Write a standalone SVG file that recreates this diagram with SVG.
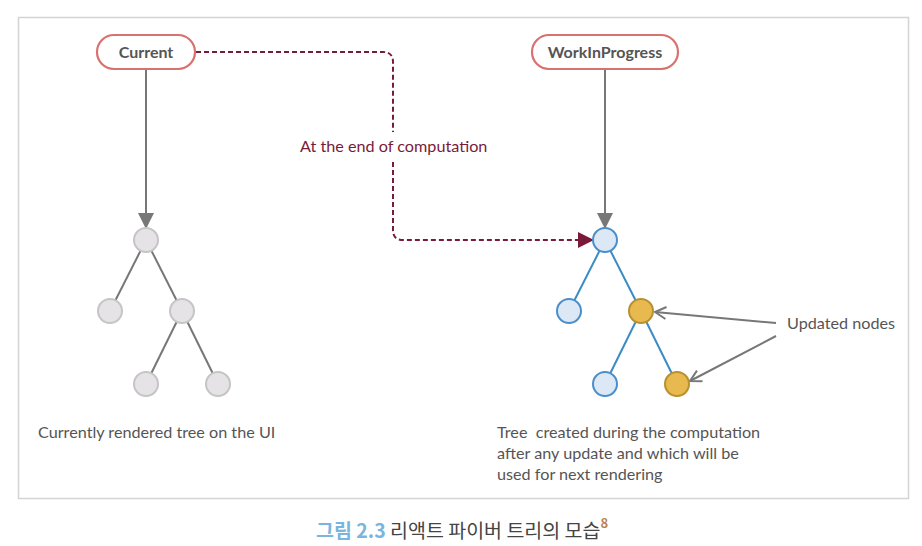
<svg xmlns="http://www.w3.org/2000/svg" width="922" height="546" viewBox="0 0 922 546">
<defs>
<style>
.t{font-family:Lato,"Open Sans","Noto Sans",sans-serif;font-size:16.2px;fill:#555}
.pill{fill:#fff;stroke:#d9716f;stroke-width:2.2}
.gn{fill:#e6e3e7;stroke:#c6c4c6;stroke-width:2}
.bn{fill:#dce8f5;stroke:#4a8fcc;stroke-width:2}
.yn{fill:#e8b94f;stroke:#b8902e;stroke-width:2}
.ge{stroke:#777;stroke-width:2;fill:none}
.be{stroke:#3a8cc4;stroke-width:2;fill:none}
</style>
<marker id="ahg" viewBox="0 0 16 16" refX="14" refY="8" markerWidth="16" markerHeight="16" markerUnits="userSpaceOnUse" orient="auto"><path d="M0,0 L16,8 L0,16 Z" fill="#777"/></marker>
<marker id="ahr" viewBox="0 0 16 16" refX="14" refY="8" markerWidth="16" markerHeight="16" markerUnits="userSpaceOnUse" orient="auto"><path d="M0,0 L16,8 L0,16 Z" fill="#7a1a3a"/></marker>
<marker id="aho" viewBox="0 0 14 14" refX="13" refY="7" markerWidth="14" markerHeight="14" markerUnits="userSpaceOnUse" orient="auto"><path d="M2,1 L13,7 L2,13" fill="none" stroke="#777" stroke-width="2"/></marker>
</defs>
<rect x="18.5" y="17.5" width="890" height="481" fill="#fff" stroke="#d4d4d4" stroke-width="1.5"/>
<g id="connectors">
<line class="ge" x1="146" y1="70" x2="146" y2="227" marker-end="url(#ahg)"/>
<line class="ge" x1="605" y1="70" x2="605" y2="227" marker-end="url(#ahg)"/>
<path d="M196,52 H383 Q393,52 393,62 V132 M393,162 V230 Q393,240 403,240 H592" fill="none" stroke="#7a1a3a" stroke-width="2" stroke-dasharray="5,3" marker-end="url(#ahr)"/>
<line class="ge" x1="776" y1="323" x2="655" y2="312" marker-end="url(#aho)"/>
<line class="ge" x1="776" y1="336" x2="690" y2="381" marker-end="url(#aho)"/>
<line class="ge" x1="146" y1="240" x2="110" y2="311"/>
<line class="ge" x1="146" y1="240" x2="182" y2="311"/>
<line class="ge" x1="182" y1="311" x2="146" y2="384"/>
<line class="ge" x1="182" y1="311" x2="218" y2="384"/>
<line class="be" x1="605" y1="240" x2="569" y2="311"/>
<line class="be" x1="605" y1="240" x2="641" y2="311"/>
<line class="be" x1="641" y1="311" x2="605" y2="384"/>
<line class="be" x1="641" y1="311" x2="677" y2="384"/>
<text x="300" y="152" style="font-family:Lato,'Open Sans',sans-serif;font-size:16.2px;fill:#7a1a3a">At the end of computation</text>
</g>
<g id="current"><rect class="pill" x="97" y="35" width="98" height="34" rx="17"/><text class="t" x="146" y="58" text-anchor="middle" style="font-weight:bold;font-size:16px">Current</text></g>
<g id="wip"><rect class="pill" x="532" y="35" width="146" height="34" rx="17"/><text class="t" x="605" y="58" text-anchor="middle" style="font-weight:bold;font-size:16px">WorkInProgress</text></g>
<g id="l-root"><circle class="gn" cx="146" cy="240" r="12"/></g>
<g id="l-a"><circle class="gn" cx="110" cy="311" r="12"/></g>
<g id="l-b"><circle class="gn" cx="182" cy="311" r="12"/></g>
<g id="l-c"><circle class="gn" cx="146" cy="384" r="12"/></g>
<g id="l-d"><circle class="gn" cx="218" cy="384" r="12"/></g>
<g id="r-root"><circle class="bn" cx="605" cy="240" r="12"/></g>
<g id="r-a"><circle class="bn" cx="569" cy="311" r="12"/></g>
<g id="r-b"><circle class="yn" cx="641" cy="311" r="12"/></g>
<g id="r-c"><circle class="bn" cx="605" cy="384" r="12"/></g>
<g id="r-d"><circle class="yn" cx="677" cy="384" r="12"/></g>
<g id="updated"><text class="t" x="787" y="329">Updated nodes</text></g>
<g id="left-label"><text class="t" x="38" y="438">Currently rendered tree on the UI</text></g>
<g id="right-label"><text class="t" x="497" y="438" xml:space="preserve">Tree  created during the computation</text><text class="t" x="497" y="459">after any update and which will be</text><text class="t" x="497" y="480">used for next rendering</text></g>
<g id="caption"><text x="316" y="538" style="font-family:'Noto Sans CJK KR','Noto Sans',sans-serif;font-size:19.5px;fill:#444"><tspan style="font-weight:bold;fill:#7ab5e0">그림 2.3</tspan> 리액트 파이버 트리의 모습<tspan dy="-10" style="font-size:13px;font-weight:bold;fill:#b98357">8</tspan></text></g>
</svg>
